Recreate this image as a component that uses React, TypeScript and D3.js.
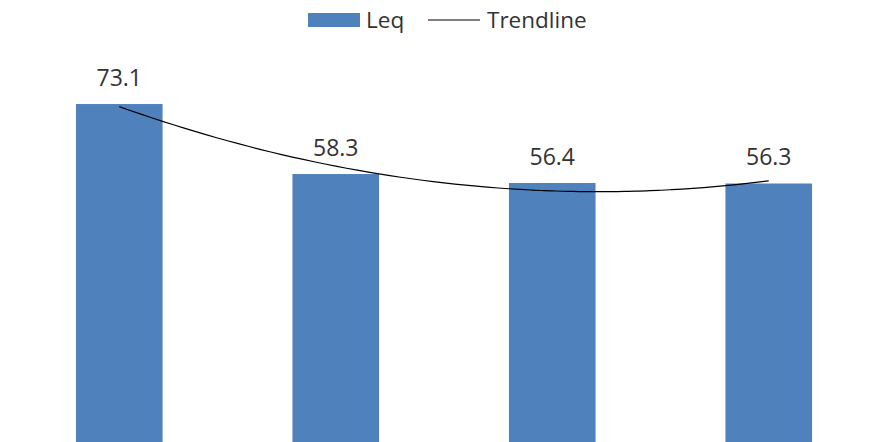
import React from "react";
import * as d3 from "d3";

const categories = ["1", "2", "3", "4"];
const leqValues = [73.1, 58.3, 56.4, 56.3];
const seriesName = "Leq";
const trendName = "Trendline";

const W = 869;
const H = 442;

function quadFit(xs: number[], ys: number[]) {
  // least squares y = a + b x + c x^2
  const n = xs.length;
  let s = [0, 0, 0, 0, 0];
  let t = [0, 0, 0];
  for (let i = 0; i < n; i++) {
    const x = xs[i];
    for (let k = 0; k < 5; k++) s[k] += Math.pow(x, k);
    for (let k = 0; k < 3; k++) t[k] += ys[i] * Math.pow(x, k);
  }
  const M = [
    [s[0], s[1], s[2], t[0]],
    [s[1], s[2], s[3], t[1]],
    [s[2], s[3], s[4], t[2]],
  ];
  for (let i = 0; i < 3; i++) {
    for (let j = i + 1; j < 3; j++) {
      const f = M[j][i] / M[i][i];
      for (let k = i; k < 4; k++) M[j][k] -= f * M[i][k];
    }
  }
  const r = [0, 0, 0];
  for (let i = 2; i >= 0; i--) {
    let v = M[i][3];
    for (let k = i + 1; k < 3; k++) v -= M[i][k] * r[k];
    r[i] = v / M[i][i];
  }
  return (x: number) => r[0] + r[1] * x + r[2] * x * x;
}

export default function App() {
  const x = d3.scaleBand<string>().domain(categories).range([11, 877]).paddingInner(0.6).paddingOuter(0.3);
  const y = d3.scaleLinear().domain([0, 80]).range([449.8, 71.4]);
  const fit = quadFit(categories.map((_, i) => i + 1), leqValues);
  const cx = (i: number) => (x(categories[0])! + x.bandwidth() / 2) + (x.step()) * i;
  const pts: [number, number][] = d3.range(0, 3.0001, 0.05).map((i) => [cx(i), y(fit(i + 1))]);
  const line = d3.line().curve(d3.curveMonotoneX)(pts) || "";
  const font = "'Open Sans', sans-serif";
  const textColor = "#333333";
  return (
    <svg width={W} height={H} style={{ position: "absolute", left: 0, top: 0, background: "#fff" }}>
      <rect x={0} y={0} width={W} height={H} fill="#fff" />
      {categories.map((c, i) => (
        <g key={c}>
          <rect x={x(c)} y={y(leqValues[i])} width={x.bandwidth()} height={y(0) - y(leqValues[i])} fill="#4f81bd" />
          <text x={x(c)! + x.bandwidth() / 2} y={y(leqValues[i]) - 18.5} textAnchor="middle" fontFamily={font} fontSize={23} fill={textColor}>
            {leqValues[i].toFixed(1)}
          </text>
        </g>
      ))}
      <path d={line} fill="none" stroke="#000" strokeWidth={1.2} />
      <g>
        <rect x={308} y={13} width={52} height={14} fill="#4f81bd" />
        <text x={366} y={27.5} fontFamily={font} fontSize={22.5} fill={textColor}>{seriesName}</text>
        <line x1={428} x2={480} y1={20} y2={20} stroke="#000" strokeWidth={1.2} />
        <text x={487} y={27.5} fontFamily={font} fontSize={22.5} fill={textColor}>{trendName}</text>
      </g>
    </svg>
  );
}
